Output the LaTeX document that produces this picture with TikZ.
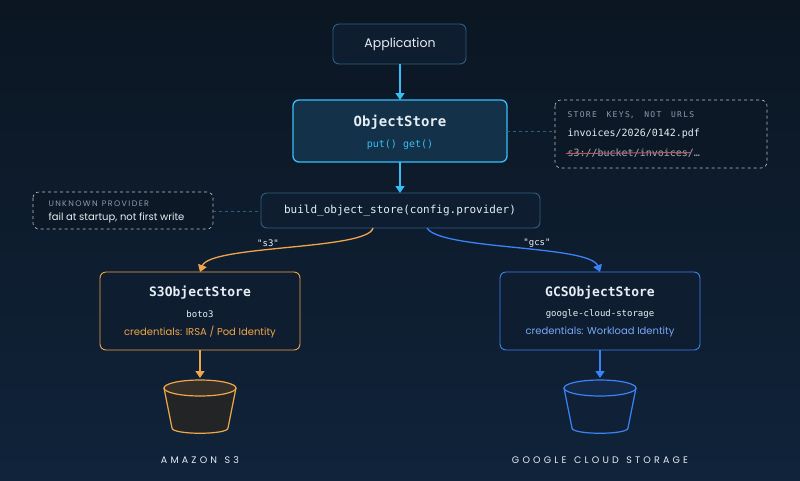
\documentclass[tikz,border=0pt]{standalone}
\usepackage{fontspec}
\setmainfont{Poppins}
\newfontfamily\mono{DejaVu Sans Mono}
\usetikzlibrary{arrows.meta}
\definecolor{bgA}{HTML}{0B1622}
\definecolor{bgB}{HTML}{10233A}
\definecolor{cyanc}{HTML}{38BDF8}
\definecolor{orng}{HTML}{F0A548}
\definecolor{bluc}{HTML}{3B82F6}
\definecolor{boxf}{HTML}{0E1E30}
\definecolor{notef}{HTML}{0C1826}
\definecolor{edgec}{HTML}{2E5F80}
\definecolor{txt}{HTML}{E6EDF3}
\definecolor{mut}{HTML}{8A9BAD}
\definecolor{strk}{HTML}{C0505A}
\begin{document}
\begin{tikzpicture}[x=1pt,y=-1pt,
 box/.style={draw=edgec,fill=boxf,rounded corners=6pt,line width=0.9pt},
 note/.style={draw=mut!60,dashed,fill=notef,rounded corners=6pt,line width=0.6pt},
 t/.style={text=txt,font=\fontsize{12}{14}\selectfont},
 arr/.style={line width=1.3pt,-{Triangle[width=9pt,length=7pt]}},
 dl/.style={draw=edgec,dashed,line width=0.7pt}]
\shade[top color=bgA,bottom color=bgB] (0,0) rectangle (800,480);
\useasboundingbox (0,0) rectangle (800,480);
% nodes
\draw[box] (333,24) rectangle (466,64);
\node[t,font=\fontsize{12.5}{14}\selectfont] (app) at (400,44) {Application};
\draw[box,draw=cyanc,fill=cyanc!12!boxf,line width=1.3pt] (293,100) rectangle (507,162);
\node[t,font=\mono\bfseries\fontsize{14}{16}\selectfont] (os) at (400,122) {ObjectStore};
\node[text=cyanc,font=\mono\fontsize{10}{12}\selectfont] (osm) at (400,145) {put() get()};
\draw[box] (261,193) rectangle (540,228);
\node[t,font=\mono\fontsize{11}{13}\selectfont] (bld) at (400,211) {build\_object\_store(config.provider)};
\draw[note] (555,100) rectangle (767,168);
\node[anchor=west,text=mut,font=\mono\fontsize{8}{10}\selectfont] (n1) at (564,115) {S\,T\,O\,R\,E\ \ K\,E\,Y\,S,\ \ N\,O\,T\ \ U\,R\,L\,S};
\node[anchor=west,t,font=\mono\fontsize{10}{12}\selectfont] (n2) at (564,134) {invoices/2026/0142.pdf};
\node[anchor=west,text=mut!80,font=\mono\fontsize{10}{12}\selectfont] (n3) at (564,153) {s3://bucket/invoices/…};
\draw[strk,line width=1pt] (566,153.5) -- (691,152.5);
\draw[note] (33,192) rectangle (213,229);
\node[anchor=west,text=mut,font=\fontsize{8}{10}\selectfont] (u1) at (45,204) {U\,N\,K\,N\,O\,W\,N\ \ P\,R\,O\,V\,I\,D\,E\,R};
\node[anchor=west,t,font=\fontsize{10}{12}\selectfont] (u2) at (45,218) {fail at startup, not first write};
\draw[box,draw=orng] (100,272) rectangle (300,350);
\node[t,font=\mono\bfseries\fontsize{13}{15}\selectfont] (s3) at (200,293) {S3ObjectStore};
\node[text=txt!80,font=\mono\fontsize{9}{11}\selectfont] at (200,314) {boto3};
\node[text=orng,font=\fontsize{10}{12}\selectfont] at (200,332) {credentials: IRSA / Pod Identity};
\draw[box,draw=bluc] (500,272) rectangle (700,350);
\node[t,font=\mono\bfseries\fontsize{13}{15}\selectfont] (gcs) at (600,293) {GCSObjectStore};
\node[text=txt!80,font=\mono\fontsize{9}{11}\selectfont] at (600,314) {google-cloud-storage};
\node[text=bluc!70!white,font=\fontsize{10}{12}\selectfont] at (600,332) {credentials: Workload Identity};
% buckets
\foreach \cx/\c in {200/orng,600/bluc}{
 \draw[\c,fill=\c!10!bgA,line width=1.2pt] (\cx-36,388) -- (\cx-28,428) .. controls (\cx-28,435) and (\cx+28,435) .. (\cx+28,428) -- (\cx+36,388);
 \draw[\c,fill=\c!18!bgA,line width=1.2pt] (\cx,388) ellipse [x radius=36,y radius=8];
}
\coordinate (b1) at (200,378); \coordinate (b2) at (600,378);
\node[text=txt,font=\fontsize{9.5}{11}\selectfont] at (200,460) {A\,\,M\,\,A\,\,Z\,\,O\,\,N\ \ \ S\,\,3};
\node[text=txt,font=\fontsize{9.5}{11}\selectfont] at (600,460) {G\,\,O\,\,O\,\,G\,\,L\,\,E\ \ \ C\,\,L\,\,O\,\,U\,\,D\ \ \ S\,\,T\,\,O\,\,R\,\,A\,\,G\,\,E};
% connectors
\draw[arr,cyanc] (400,64) -- (400,100);
\draw[arr,cyanc] (400,162) -- (400,193);
\draw[dl] (507,131) -- (555,131);
\draw[dl] (213,211) -- (261,211);
\draw[arr,orng] (373,228) .. controls (368,250) and (210,245) .. (200,272);
\draw[arr,bluc] (427,228) .. controls (440,250) and (590,245) .. (600,272);
\node[text=txt!85,font=\mono\fontsize{9}{11}\selectfont] at (268,243) {"s3"};
\node[text=txt!85,font=\mono\fontsize{9}{11}\selectfont] at (537,243) {"gcs"};
\draw[arr,orng] (200,350) -- (b1);
\draw[arr,bluc] (600,350) -- (b2);
\end{tikzpicture}
\end{document}
